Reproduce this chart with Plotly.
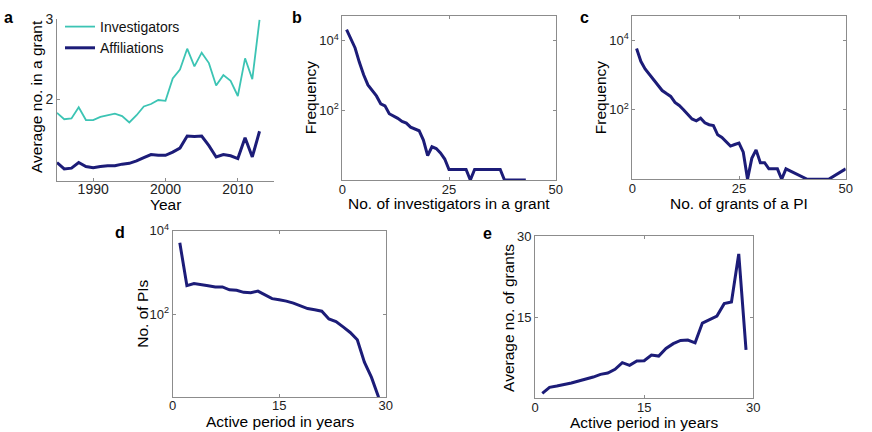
import plotly.graph_objects as go

# ---- data ----
years = list(range(1985, 2014))
investigators = [1.83, 1.75, 1.76, 1.90, 1.74, 1.74, 1.78, 1.80, 1.82, 1.79, 1.71, 1.80, 1.91, 1.94, 1.99,
                 1.98, 2.26, 2.37, 2.63, 2.41, 2.58, 2.45, 2.17, 2.30, 2.23, 2.04, 2.51, 2.25, 2.99]
affiliations = [1.21, 1.13, 1.14, 1.21, 1.16, 1.145, 1.16, 1.17, 1.17, 1.19, 1.20, 1.23, 1.27, 1.31, 1.30,
                1.30, 1.34, 1.39, 1.54, 1.535, 1.54, 1.42, 1.28, 1.31, 1.295, 1.26, 1.52, 1.28, 1.60]

inv_count = list(range(1, 44))
inv_freq = [21000, 12000, 6200, 2400, 1050, 540, 360, 260, 155, 135, 80, 69, 59, 48, 43, 33, 29, 26, 14, 5,
            9, 8, 6, 4, 2, 2, 2, 2, 2, 1, 2, 2, 2, 2, 2, 2, 2, 1, 1, 1, 1, 1, 1]

grant_count = list(range(1, 37)) + [41, 46, 50]
grant_freq = [5750, 2450, 1480, 1020, 710, 500, 355, 290, 240, 162, 132, 100, 72, 54, 48, 57, 42, 37, 35, 19,
              16, 12, 9, 10, 11, 6, 1, 4, 7, 3, 3, 2, 2, 2, 1, 2, 1, 1, 2]

period = list(range(1, 30))
n_pis = [5130, 479, 537, 513, 479, 447, 447, 380, 372, 331, 324, 355, 288, 234, 219, 204, 182, 155, 135, 126,
         117, 76, 66, 49, 36, 24, 7, 3, 1]
avg_grants = [0.92, 2.03, 2.27, 2.52, 2.83, 3.2, 3.5, 3.93, 4.43, 4.67, 5.35, 6.58, 6.08, 6.88, 6.95, 7.99,
              7.8, 9.2, 10.1, 10.7, 10.76, 10.26, 13.9, 14.5, 15.2, 17.5, 17.8, 26.7, 8.97]

NAVY = "#1c1c78"
TEAL = "#3cc4b4"
W, H = 872, 432
FONT = "Liberation Sans, Arial, sans-serif"
TITLE_SIZE = 15.5

fig = go.Figure()
fig.add_trace(go.Scatter(x=years, y=investigators, mode="lines", name="Investigators",
                         line=dict(color=TEAL, width=1.8), xaxis="x", yaxis="y"))
fig.add_trace(go.Scatter(x=years, y=affiliations, mode="lines", name="Affiliations",
                         line=dict(color=NAVY, width=3), xaxis="x", yaxis="y"))
fig.add_trace(go.Scatter(x=inv_count, y=inv_freq, mode="lines", showlegend=False,
                         line=dict(color=NAVY, width=3), xaxis="x2", yaxis="y2"))
fig.add_trace(go.Scatter(x=grant_count, y=grant_freq, mode="lines", showlegend=False,
                         line=dict(color=NAVY, width=3), xaxis="x3", yaxis="y3"))
fig.add_trace(go.Scatter(x=period, y=n_pis, mode="lines", showlegend=False,
                         line=dict(color=NAVY, width=3), xaxis="x4", yaxis="y4"))
fig.add_trace(go.Scatter(x=period, y=avg_grants, mode="lines", showlegend=False,
                         line=dict(color=NAVY, width=3), xaxis="x5", yaxis="y5"))


def dx(a, b):
    return [a / W, b / W]


def dy(top, bottom):
    return [1 - bottom / H, 1 - top / H]


AX = dict(showgrid=False, zeroline=False, showline=True, linecolor="#8c8c8c", linewidth=1,
          ticks="inside", ticklen=3, tickcolor="#8c8c8c", tickfont=dict(size=13, color="#222"),
          automargin=False)
XAX = dict(AX, ticklabelstandoff=-3)

sup = lambda e: "10<sup>%d</sup>" % e

layout = dict(
    template="none",
    width=W, height=H, margin=dict(l=0, r=0, t=0, b=0, autoexpand=False),
    paper_bgcolor="white", plot_bgcolor="white",
    font=dict(family=FONT, color="#111"),
    showlegend=True,
    legend=dict(x=60 / W, y=1 - 11 / H, xanchor="left", yanchor="top", bgcolor="rgba(0,0,0,0)",
                font=dict(size=14, color="#111"), itemwidth=30, tracegroupgap=0,
                borderwidth=0),
    # panel a
    xaxis=dict(XAX, domain=dx(57, 274), anchor="y", range=[1985, 2015], tickvals=[1990, 2000, 2010],
               tickfont=dict(size=14, color="#222"), mirror=False, ticklabelstandoff=-5),
    yaxis=dict(AX, domain=dy(19, 181), anchor="x", range=[0.98, 3], tickvals=[2, 3],
               tickfont=dict(size=14, color="#222"), mirror=False),
    # panel b
    xaxis2=dict(XAX, domain=dx(342.3, 555.7), anchor="y2", range=[0, 50], tickvals=[0, 25, 50],
                mirror="ticks"),
    yaxis2=dict(AX, domain=dy(15.7, 180), anchor="x2", type="log", range=[0, 4.72],
                tickvals=[100, 10000], ticktext=[sup(2), sup(4)], mirror="ticks"),
    # panel c
    xaxis3=dict(XAX, domain=dx(632.3, 845.7), anchor="y3", range=[0, 50], tickvals=[0, 25, 50],
                mirror="ticks"),
    yaxis3=dict(AX, domain=dy(15.7, 179.3), anchor="x3", type="log", range=[0, 4.7],
                tickvals=[100, 10000], ticktext=[sup(2), sup(4)], mirror="ticks"),
    # panel d
    xaxis4=dict(XAX, domain=dx(172.7, 385.7), anchor="y4", range=[0, 30], tickvals=[0, 15, 30],
                mirror="ticks", ticklabelstandoff=-4),
    yaxis4=dict(AX, domain=dy(230.7, 397.3), anchor="x4", type="log", range=[0, 4],
                tickvals=[100, 10000], ticktext=[sup(2), sup(4)], mirror="ticks"),
    # panel e
    xaxis5=dict(XAX, domain=dx(535, 753.3), anchor="y5", range=[0, 30], tickvals=[0, 15, 30],
                mirror="ticks"),
    yaxis5=dict(AX, domain=dy(236, 398.3), anchor="x5", range=[0, 30], tickvals=[15, 30],
                mirror="ticks"),
)
fig.update_layout(**layout)


def text(t, px, py, size, angle=0, bold=False):
    fig.add_annotation(text=("<b>%s</b>" % t) if bold else t, xref="paper", yref="paper",
                       x=px / W, y=1 - py / H, xanchor="center", yanchor="middle", showarrow=False,
                       textangle=angle, font=dict(size=size, color="#000", family=FONT))


# panel letters
for letter, px, py in [("a", 8, 17.5), ("b", 297, 17.5), ("c", 584, 17.5), ("d", 120, 232), ("e", 487, 233)]:
    text(letter, px, py, 16, bold=True)

# axis titles
text("Year", 165.5, 204.5, TITLE_SIZE)
text("Average no. in a grant", 37, 97, TITLE_SIZE, angle=-90)
text("No. of investigators in a grant", 449, 203, TITLE_SIZE)
text("Frequency", 310.7, 97.5, TITLE_SIZE, angle=-90)
text("No. of grants of a PI", 739, 203, TITLE_SIZE)
text("Frequency", 600.7, 97.5, TITLE_SIZE, angle=-90)
text("Active period in years", 279.5, 421.5, TITLE_SIZE)
text("No. of PIs", 141.7, 314, TITLE_SIZE, angle=-90)
text("Active period in years", 644, 422.5, TITLE_SIZE)
text("Average no. of grants", 508.3, 317.6, TITLE_SIZE, angle=-90)

fig.write_html("out.html", config={"displayModeBar": False},
               post_script="document.body.style.margin='0px';document.body.style.overflow='hidden';")
